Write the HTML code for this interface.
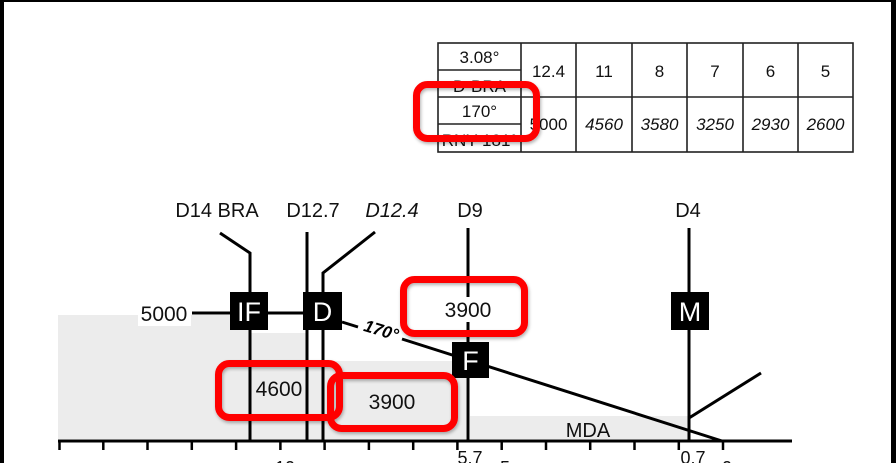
<!DOCTYPE html>
<html><head><meta charset="utf-8"><style>
html,body{margin:0;padding:0;background:#fff;}
body{width:896px;height:463px;overflow:hidden;position:relative;}
svg{position:absolute;left:0;top:0;}
text{font-family:"Liberation Sans",Arial,sans-serif;}
</style></head><body>
<svg width="896" height="463" viewBox="0 0 896 463" xmlns="http://www.w3.org/2000/svg">
<defs>
<filter id="sh" x="-20%" y="-20%" width="140%" height="140%"><feDropShadow dx="1" dy="2" stdDeviation="1.5" flood-color="#000" flood-opacity="0.3"/></filter>
</defs>
<rect x="0" y="0" width="896" height="463" fill="#fff"/>
<!-- frame -->
<rect x="0" y="0" width="4" height="463" fill="#000"/>
<rect x="0" y="0" width="896" height="2" fill="#000"/>
<rect x="891" y="0" width="5" height="463" fill="#000"/>

<!-- table -->
<g stroke="#222" stroke-width="1.6" fill="none">
<rect x="438" y="43" width="415" height="109"/>
<line x1="438" y1="97" x2="853" y2="97"/>
<line x1="438" y1="70" x2="521" y2="70"/>
<line x1="438" y1="124" x2="521" y2="124"/>
<line x1="521" y1="43" x2="521" y2="152"/>
<line x1="576" y1="43" x2="576" y2="152"/>
<line x1="632" y1="43" x2="632" y2="152"/>
<line x1="687" y1="43" x2="687" y2="152"/>
<line x1="743" y1="43" x2="743" y2="152"/>
<line x1="798" y1="43" x2="798" y2="152"/>
</g>
<g font-size="17" fill="#111" text-anchor="middle">
<text x="479.5" y="63">3.08°</text>
<text x="479.5" y="92">D-BRA</text>
<text x="479.5" y="117">170°</text>
<text x="479.5" y="146">RNY 181°</text>
<text x="548.5" y="77">12.4</text>
<text x="604" y="77">11</text>
<text x="659.5" y="77">8</text>
<text x="715" y="77">7</text>
<text x="770.5" y="77">6</text>
<text x="825.5" y="77">5</text>
<text x="548.5" y="130">5000</text>
<g font-style="italic">
<text x="604" y="130">4560</text>
<text x="659.5" y="130">3580</text>
<text x="715" y="130">3250</text>
<text x="770.5" y="130">2930</text>
<text x="825.5" y="130">2600</text>
</g>
</g>

<!-- gray areas -->
<g fill="#ececec">
<rect x="58" y="315" width="192" height="124"/>
<rect x="250" y="333" width="57" height="106"/>
<rect x="307" y="361" width="159" height="78"/>
<rect x="470" y="416" width="219" height="23"/>
</g>

<!-- lines -->
<g stroke="#000" stroke-width="3" fill="none">
<polyline points="220,233 250,253 250,441"/>
<line x1="307" y1="232" x2="307" y2="441"/>
<polyline points="375,232 323,273 323,441"/>
<line x1="468" y1="228" x2="468" y2="441"/>
<line x1="689" y1="228" x2="689" y2="441"/>
<line x1="192" y1="313" x2="303" y2="313"/>
<line x1="342" y1="322" x2="358" y2="327"/>
<line x1="402" y1="339" x2="722" y2="441"/>
<line x1="689" y1="418" x2="761" y2="373"/>
<line x1="58" y1="441" x2="792" y2="441"/>
</g>
<g stroke="#000" stroke-width="2.5">
<line x1="59.5" y1="441" x2="59.5" y2="450"/>
<line x1="103.3" y1="441" x2="103.3" y2="450"/>
<line x1="147.5" y1="441" x2="147.5" y2="450"/>
<line x1="191.8" y1="441" x2="191.8" y2="450"/>
<line x1="236.1" y1="441" x2="236.1" y2="450"/>
<line x1="280.4" y1="441" x2="280.4" y2="450"/>
<line x1="324.6" y1="441" x2="324.6" y2="450"/>
<line x1="368.9" y1="441" x2="368.9" y2="450"/>
<line x1="413.2" y1="441" x2="413.2" y2="450"/>
<line x1="457.4" y1="441" x2="457.4" y2="450"/>
<line x1="501.7" y1="441" x2="501.7" y2="450"/>
<line x1="546" y1="441" x2="546" y2="450"/>
<line x1="590.2" y1="441" x2="590.2" y2="450"/>
<line x1="634.5" y1="441" x2="634.5" y2="450"/>
<line x1="678.8" y1="441" x2="678.8" y2="450"/>
<line x1="723" y1="441" x2="723" y2="450"/>
</g>

<!-- waypoint boxes -->
<g fill="#000">
<rect x="230" y="292" width="38" height="38"/>
<rect x="303" y="292" width="39" height="38"/>
<rect x="452" y="342" width="37" height="36"/>
<rect x="671" y="292" width="38" height="38"/>
</g>
<g fill="#fff" font-size="27" text-anchor="middle">
<text x="249" y="321">IF</text>
<text x="322.5" y="321">D</text>
<text x="470.5" y="370">F</text>
<text x="690" y="321">M</text>
</g>

<!-- labels -->
<g font-size="20" fill="#111" text-anchor="middle">
<text x="217" y="217">D14 BRA</text>
<text x="313" y="217">D12.7</text>
<text x="392" y="217" font-style="italic">D12.4</text>
<text x="470" y="217">D9</text>
<text x="688" y="217">D4</text>
<text x="588" y="437">MDA</text>
</g>
<rect x="138" y="302" width="53" height="24" fill="#fff"/>
<rect x="443" y="297" width="51" height="25" fill="#fff"/>
<g font-size="21" fill="#111" text-anchor="middle">
<text x="164" y="321">5000</text>
<text x="468" y="317">3900</text>
<text x="279" y="396">4600</text>
<text x="392" y="409">3900</text>
</g>
<text x="381" y="336" font-size="17" font-weight="bold" font-style="italic" text-anchor="middle" fill="#000" transform="rotate(17 381 331)">170°</text>

<g font-size="18" fill="#111" text-anchor="middle">
<text x="285" y="474">10</text>
<text x="470" y="464">5.7</text>
<text x="505" y="474">5</text>
<text x="693" y="464">0.7</text>
<text x="727" y="474">0</text>
</g>

<!-- red highlight boxes -->
<g fill="none" stroke="#ff0000" stroke-width="7" filter="url(#sh)">
<rect x="416.5" y="84.5" width="120" height="54" rx="11"/>
<rect x="403.5" y="279.5" width="121" height="54" rx="11"/>
<rect x="218.5" y="363.5" width="121" height="54" rx="11"/>
<rect x="330.5" y="375.5" width="124" height="53" rx="11"/>
</g>
</svg>
</body></html>
